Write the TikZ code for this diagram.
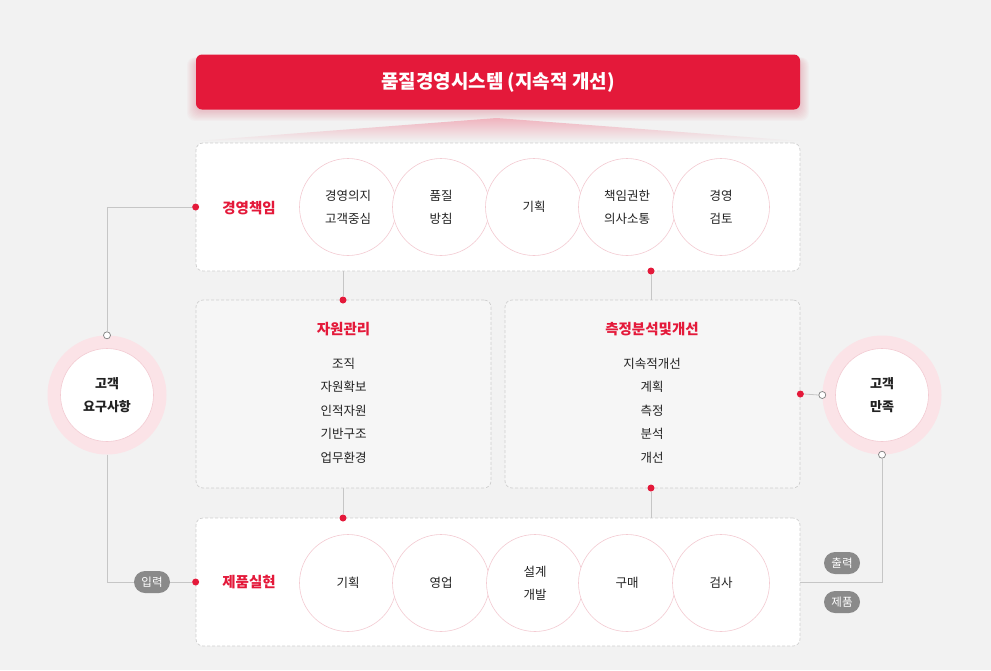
\documentclass[tikz,border=0pt]{standalone}
\usepackage{fontspec}
\setmainfont{Noto Sans CJK KR}
\usetikzlibrary{fadings}
\definecolor{bg}{HTML}{F2F2F2}
\definecolor{qred}{HTML}{E4193A}
\definecolor{pinkline}{HTML}{F3CBD2}
\definecolor{ringfill}{HTML}{FBE3E7}
\definecolor{lgray}{HTML}{C6C6C6}
\definecolor{dgray}{HTML}{CFCFCF}
\definecolor{pillgray}{HTML}{8A8A8A}
\definecolor{txt}{HTML}{222222}
\definecolor{boxfill}{HTML}{F6F6F6}
\definecolor{wedge}{HTML}{F0B3BE}
\begin{document}
\begin{tikzpicture}[x=1pt,y=-1pt,
  banner/.style={fill=qred, rounded corners=6pt, minimum width=604pt, minimum height=55pt, text=white, font=\fontsize{19}{22}\selectfont\bfseries, inner sep=0pt},
  wbox/.style={fill=white, draw=dgray, dash pattern=on 3pt off 2pt, rounded corners=7pt, minimum width=604pt, minimum height=128pt, inner sep=0pt, line width=0.7pt},
  gbox/.style={fill=boxfill, draw=dgray, dash pattern=on 3pt off 2pt, rounded corners=7pt, minimum width=295pt, minimum height=188pt, inner sep=0pt, line width=0.7pt},
  circ/.style={circle, fill=white, draw=pinkline, line width=0.6pt, minimum size=97pt, inner sep=0pt, align=center, text=txt, font=\fontsize{12.5}{23}\selectfont},
  redlabel/.style={text=qred, font=\fontsize{14.5}{16}\selectfont\bfseries, inner sep=0pt},
  items/.style={align=center, text=txt, font=\fontsize{12.5}{23.5}\selectfont, inner sep=0pt},
  ring/.style={circle, fill=ringfill, minimum size=119pt, inner sep=0pt},
  inner/.style={circle, fill=white, draw=pinkline, line width=0.6pt, minimum size=93pt, inner sep=0pt, align=center, text=txt, font=\fontsize{13}{23}\selectfont\bfseries},
  rdot/.style={circle, fill=qred, minimum size=7pt, inner sep=0pt},
  odot/.style={circle, fill=white, draw=gray, line width=0.7pt, minimum size=7pt, inner sep=0pt},
  conn/.style={draw=lgray, line width=0.8pt},
  pill/.style={fill=pillgray, rounded corners=11pt, minimum width=36pt, minimum height=22pt, inner sep=0pt, text=white, font=\fontsize{11.5}{13}\selectfont}
]
\useasboundingbox[fill=bg] (0,0) rectangle (991,670);

% banner glow
\foreach \i in {1,...,9}{
  \fill[qred, opacity=0.022, rounded corners=8pt] (196-\i,60-\i*0.3) rectangle (800+\i,111+\i*1.1);
}
% wedge under banner
\fill[wedge, path fading=south] (497,118) -- (800,141) -- (196,141) -- cycle;

\node[banner] (title) at (498,82) {품질경영시스템 (지속적 개선)};

% boxes
\node[wbox] (mgmt) at (498,207) {};
\node[gbox] (res) at (343.5,394) {};
\node[gbox] (meas) at (652.5,394) {};
\node[wbox] (prod) at (498,582) {};

% management row
\node[redlabel] (mgmtlbl) at (249,208) {경영책임};
\node[circ] (m1) at (348,207) {경영의지\\고객중심};
\node[circ] (m2) at (441,207) {품질\\방침};
\node[circ] (m3) at (534,207) {기획};
\node[circ] (m4) at (627,207) {책임권한\\의사소통};
\node[circ] (m5) at (721,207) {경영\\검토};

% product row
\node[redlabel] (prodlbl) at (249,582) {제품실현};
\node[circ] (p1) at (348,583) {기획};
\node[circ] (p2) at (441,583) {영업};
\node[circ] (p3) at (535,583) {설계\\개발};
\node[circ] (p4) at (627,583) {구매};
\node[circ] (p5) at (721,583) {검사};

% resource box
\node[redlabel] (reslbl) at (343.5,329) {자원관리};
\node[items, anchor=north] (resitems) at (343.5,357.5) {조직\\자원확보\\인적자원\\기반구조\\업무환경};
% measurement box
\node[redlabel] (measlbl) at (652,329) {측정분석및개선};
\node[items, anchor=north] (measitems) at (652,357.5) {지속적개선\\계획\\측정\\분석\\개선};

% customer circles
\node[ring] (req) at (107,395) {};
\node[inner] (reqin) at (107,395) {고객\\요구사항};
\node[ring] (sat) at (882,395) {};
\node[inner] (satin) at (882,395) {고객\\만족};

% dots
\node[rdot] (dm) at (mgmt.west) {};
\node[rdot] (dres) at (343,300) {};
\node[rdot] (dmb) at (651,271) {};
\node[rdot] (dprodt) at (343,518) {};
\node[rdot] (dmeasb) at (651,488) {};
\node[rdot] (dmeasr) at (meas.east) {};
\node[rdot] (dp) at (prod.west) {};
\node[odot] (oreq) at (req.north) {};
\node[odot] (osat) at (sat.west) {};
\node[odot] (osatb) at (sat.south) {};

% connectors
\draw[conn] (oreq.north) |- (dm.west);
\draw[conn] (req.south) |- (dp.west);
\draw[conn] (dres |- mgmt.south) -- (dres.north);
\draw[conn] (dmb.south) -- (dmb |- meas.north);
\draw[conn] (dprodt |- res.south) -- (dprodt.north);
\draw[conn] (dmeasb.south) -- (dmeasb |- prod.north);
\draw[conn] (dmeasr.east) -- (osat.west);
\draw[conn] (osatb.south) |- (prod.east);

% pills
\node[pill] (in) at (152,582) {입력};
\node[pill] (out) at (842,563) {출력};
\node[pill] (prodpill) at (842,602) {제품};
\end{tikzpicture}
\end{document}
